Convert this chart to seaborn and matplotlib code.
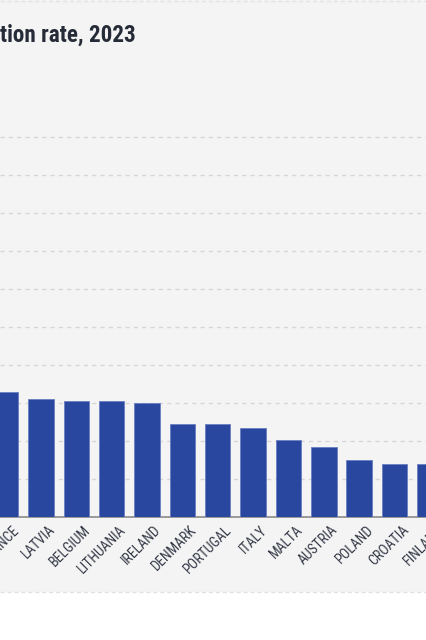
import pandas as pd
import seaborn as sns
import matplotlib.pyplot as plt
import matplotlib.transforms as mtransforms
from matplotlib.patches import Rectangle
from matplotlib.lines import Line2D

# values (gridline step = 5, no y labels visible)
countries = ["FRANCE", "LATVIA", "BELGIUM", "LITHUANIA", "IRELAND", "DENMARK",
             "PORTUGAL", "ITALY", "MALTA", "AUSTRIA", "POLAND", "CROATIA", "FINLAND"]
values = [16.5, 15.5, 15.3, 15.3, 15.0, 12.3, 12.3, 11.7, 10.2, 9.3, 7.5, 7.0, 7.0]
title_text = "tion rate, 2023"

sns.set_theme(style="white")
plt.rcParams['font.family'] = ['Roboto Condensed', 'Open Sans Condensed', 'Liberation Sans Narrow',
                               'Liberation Sans', 'DejaVu Sans']

W, H = 427, 640
fig = plt.figure(figsize=(W / 100, H / 100), dpi=100)
fig.patch.set_facecolor('white')

# grey panel with dashed border at the bottom
fig.patches.append(Rectangle((0, 48 / H), 1, 1 - 48 / H, transform=fig.transFigure,
                             facecolor='#f4f4f4', edgecolor='none', zorder=-5))
fig.lines.append(Line2D([0, 1], [48 / H, 48 / H], transform=fig.transFigure,
                        color='#e2e2e2', lw=1, ls=(0, (3, 2)), zorder=-4))
fig.lines.append(Line2D([0, 1], [1 - 0.5 / H, 1 - 0.5 / H], transform=fig.transFigure,
                        color='#e2e2e2', lw=1, ls=(0, (3, 2)), zorder=-4))

# the axes run past the right edge so the last (cut) bar keeps its label
extra = 30
ax = fig.add_axes([0, 122.7 / H, (W + extra) / W, 418.7 / H])
ax.set_facecolor('none')

df = pd.DataFrame({'country': countries, 'value': values})
sns.barplot(data=df, x='country', y='value', color='#2a479f', saturation=1,
            width=0.72, edgecolor='#6a7fc2', linewidth=0.6, ax=ax, zorder=3)

pitch = 35.35
xmin = 1 - 41 / pitch
ax.set_xlim(xmin, xmin + (W + extra) / pitch)
ax.set_ylim(0, 55)
ax.set_yticks(range(5, 55, 5))
ax.yaxis.grid(True, color='#d6d6d6', ls=(0, (3, 3)), lw=1, zorder=0)
ax.set_axisbelow(True)
ax.set_yticklabels([])
ax.tick_params(axis='y', length=0)
ax.tick_params(axis='x', length=0, pad=4)
for s in ['top', 'left', 'right']:
    ax.spines[s].set_visible(False)
ax.spines['bottom'].set_color('#8a8a8a')
ax.spines['bottom'].set_linewidth(1.2)
ax.set_xlabel('')
ax.set_ylabel('')
shift = mtransforms.ScaledTranslation(7 / 100, 0, fig.dpi_scale_trans)
for lab in ax.get_xticklabels():
    lab.set_rotation(45)
    lab.set_ha('right')
    lab.set_rotation_mode('anchor')
    lab.set_fontsize(10)
    lab.set_color('#343946')
    lab.set_transform(lab.get_transform() + shift)

title = fig.text(135.7 / W, 1 - 41.7 / H, title_text, ha='right', va='baseline',
                 fontsize=18, fontweight='bold', color='#262b38')
# shrink the title so the visible part spans the same width as the reference
fig.canvas.draw()
w = title.get_window_extent().width
title.set_fontsize(18 * 136 / w)

fig.savefig('out.png', dpi=100)
